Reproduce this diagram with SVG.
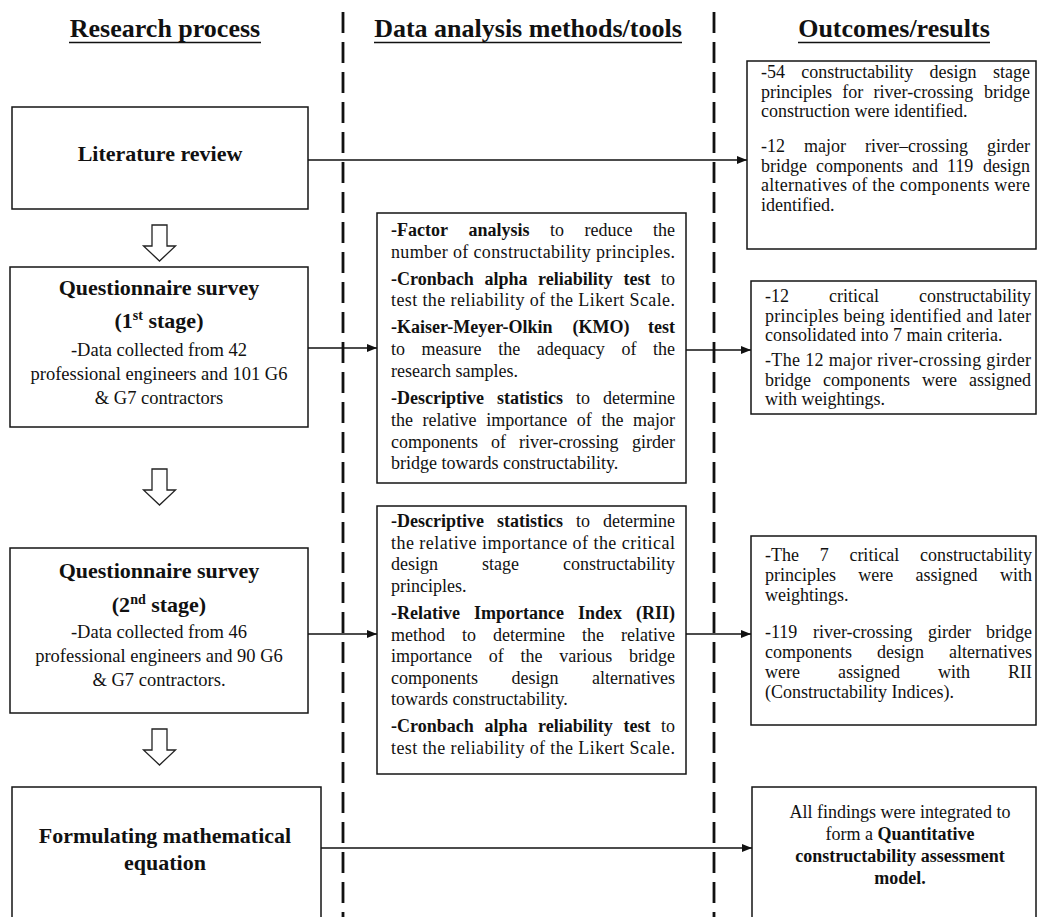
<svg xmlns="http://www.w3.org/2000/svg" width="1039" height="917" viewBox="0 0 1039 917">
  <style>
    text { font-family: "Liberation Serif", "Times New Roman", serif; fill: #111; }
    .hdr { font-size: 26px; font-weight: 700; }
    .ttl { font-size: 22px; font-weight: 700; }
    .txt { font-size: 18px; }
    .qt { font-size: 18.5px; }
    .b { font-weight: 700; }
    .sup { font-size: 14px; }
    .box { fill: #fff; stroke: #151515; stroke-width: 1.5; }
    .ul { stroke: #111; stroke-width: 1.6; }
    .sep { stroke: #111; stroke-width: 2.8; stroke-dasharray: 21 9; fill: none; }
    .flow { stroke: #111; stroke-width: 1.5; fill: none; marker-end: url(#ah); }
    .hollow { fill: #fff; stroke: #222; stroke-width: 1.3; }
  </style>
  <defs>
    <marker id="ah" markerWidth="10" markerHeight="8" refX="10" refY="4" orient="auto" markerUnits="userSpaceOnUse">
      <path d="M0,0 L10,4 L0,8 Z" fill="#111"/>
    </marker>
    <path id="down" class="hollow" d="M-7.5,0 H7.5 V21 H16 L0,36 L-16,21 H-7.5 Z"/>
  </defs>

  <rect width="1039" height="917" fill="#fff"/>

  <!-- column separators -->
  <g id="separators">
    <line class="sep" x1="343" y1="12" x2="343" y2="917"/>
    <line class="sep" x1="714" y1="12" x2="714" y2="917"/>
  </g>

  <!-- column headings -->
  <g id="headings">
    <text class="hdr" x="165" y="37" text-anchor="middle">Research process</text>
    <line class="ul" x1="69" y1="42.5" x2="261" y2="42.5"/>
    <text class="hdr" x="528" y="37" text-anchor="middle">Data analysis methods/tools</text>
    <line class="ul" x1="374" y1="42.5" x2="682" y2="42.5"/>
    <text class="hdr" x="894" y="37" text-anchor="middle">Outcomes/results</text>
    <line class="ul" x1="798" y1="42.5" x2="990" y2="42.5"/>
  </g>

  <!-- connectors -->
  <g id="connectors">
    <line class="flow" x1="308" y1="160" x2="747" y2="160"/>
    <line class="flow" x1="308" y1="348" x2="377" y2="348"/>
    <line class="flow" x1="686" y1="350" x2="751" y2="350"/>
    <line class="flow" x1="308" y1="634" x2="377" y2="634"/>
    <line class="flow" x1="686" y1="634" x2="751" y2="634"/>
    <line class="flow" x1="321" y1="848" x2="752" y2="848"/>
    <use href="#down" transform="translate(159.5,225)"/>
    <use href="#down" transform="translate(159.5,469)"/>
    <use href="#down" transform="translate(159.5,729)"/>
  </g>

  <!-- research process column -->
  <g id="literature-review">
    <rect class="box" x="12" y="107" width="296" height="102"/>
    <text class="ttl" x="160" y="161" text-anchor="middle">Literature review</text>
  </g>

  <g id="survey-stage-1">
    <rect class="box" x="10" y="267" width="298" height="160"/>
    <text class="ttl" x="159" y="295" text-anchor="middle">Questionnaire survey</text>
    <text class="ttl" x="159" y="328" text-anchor="middle">(1<tspan class="sup" dy="-8">st</tspan><tspan dy="8"> stage)</tspan></text>
    <text class="qt" x="159" y="356" text-anchor="middle">-Data collected from 42</text>
    <text class="qt" x="159" y="380" text-anchor="middle">professional engineers and 101 G6</text>
    <text class="qt" x="159" y="404" text-anchor="middle">&amp; G7 contractors</text>
  </g>

  <g id="survey-stage-2">
    <rect class="box" x="10" y="548" width="298" height="165"/>
    <text class="ttl" x="159" y="578" text-anchor="middle">Questionnaire survey</text>
    <text class="ttl" x="159" y="612" text-anchor="middle">(2<tspan class="sup" dy="-8">nd</tspan><tspan dy="8"> stage)</tspan></text>
    <text class="qt" x="159" y="638" text-anchor="middle">-Data collected from 46</text>
    <text class="qt" x="159" y="662" text-anchor="middle">professional engineers and 90 G6</text>
    <text class="qt" x="159" y="686" text-anchor="middle">&amp; G7 contractors.</text>
  </g>

  <g id="formulating-equation">
    <rect class="box" x="12" y="787" width="309" height="140"/>
    <text class="ttl" x="165" y="843" text-anchor="middle">Formulating mathematical</text>
    <text class="ttl" x="165" y="870" text-anchor="middle">equation</text>
  </g>

  <!-- methods column -->
  <g id="methods-stage-1">
    <rect class="box" x="377" y="213" width="309" height="270"/>
    <text class="txt" y="236"><tspan class="b" x="391">-Factor</tspan><tspan class="b" x="468.5">analysis</tspan><tspan x="550">to</tspan><tspan x="584.5">reduce</tspan><tspan x="653">the</tspan></text>
    <text class="txt" x="391" y="258" textLength="284" lengthAdjust="spacing">number of constructability principles.</text>
    <text class="txt" y="285"><tspan class="b" x="391">-Cronbach</tspan><tspan class="b" x="484.5">alpha</tspan><tspan class="b" x="538">reliability</tspan><tspan class="b" x="623.5">test</tspan><tspan x="661">to</tspan></text>
    <text class="txt" x="391" y="306" textLength="284" lengthAdjust="spacing">test the reliability of the Likert Scale.</text>
    <text class="txt" y="333"><tspan class="b" x="391">-Kaiser-Meyer-Olkin</tspan><tspan class="b" x="572.5">(KMO)</tspan><tspan class="b" x="648">test</tspan></text>
    <text class="txt" y="355"><tspan x="391">to</tspan><tspan x="421.6">measure</tspan><tspan x="498.2">the</tspan><tspan x="536.8">adequacy</tspan><tspan x="621.4">of</tspan><tspan x="653">the</tspan></text>
    <text class="txt" x="391" y="377">research samples.</text>
    <text class="txt" y="404"><tspan class="b" x="391">-Descriptive</tspan><tspan class="b" x="497">statistics</tspan><tspan x="576">to</tspan><tspan x="603">determine</tspan></text>
    <text class="txt" y="426"><tspan x="391">the</tspan><tspan x="422.6">relative</tspan><tspan x="486.2">importance</tspan><tspan x="576.8">of</tspan><tspan x="601.4">the</tspan><tspan x="633">major</tspan></text>
    <text class="txt" y="448"><tspan x="391">components</tspan><tspan x="491">of</tspan><tspan x="519">river-crossing</tspan><tspan x="632">girder</tspan></text>
    <text class="txt" x="391" y="469">bridge towards constructability.</text>
  </g>

  <g id="methods-stage-2">
    <rect class="box" x="377" y="506" width="309" height="268"/>
    <text class="txt" y="527"><tspan class="b" x="391">-Descriptive</tspan><tspan class="b" x="497">statistics</tspan><tspan x="576">to</tspan><tspan x="603">determine</tspan></text>
    <text class="txt" x="391" y="549" textLength="284" lengthAdjust="spacing">the relative importance of the critical</text>
    <text class="txt" y="570"><tspan x="391">design</tspan><tspan x="482">stage</tspan><tspan x="563">constructability</tspan></text>
    <text class="txt" x="391" y="592">principles.</text>
    <text class="txt" y="619"><tspan class="b" x="391">-Relative</tspan><tspan class="b" x="474">Importance</tspan><tspan class="b" x="578">Index</tspan><tspan class="b" x="636">(RII)</tspan></text>
    <text class="txt" y="641"><tspan x="391">method</tspan><tspan x="462">to</tspan><tspan x="493">determine</tspan><tspan x="582">the</tspan><tspan x="621">relative</tspan></text>
    <text class="txt" y="662"><tspan x="391">importance</tspan><tspan x="488.8">of</tspan><tspan x="520.5">the</tspan><tspan x="559.3">various</tspan><tspan x="629">bridge</tspan></text>
    <text class="txt" y="684"><tspan x="391">components</tspan><tspan x="511.5">design</tspan><tspan x="592">alternatives</tspan></text>
    <text class="txt" x="391" y="705">towards constructability.</text>
    <text class="txt" y="732"><tspan class="b" x="391">-Cronbach</tspan><tspan class="b" x="484.5">alpha</tspan><tspan class="b" x="538">reliability</tspan><tspan class="b" x="623.5">test</tspan><tspan x="661">to</tspan></text>
    <text class="txt" x="391" y="754" textLength="284" lengthAdjust="spacing">test the reliability of the Likert Scale.</text>
  </g>

  <!-- outcomes column -->
  <g id="outcome-literature">
    <rect class="box" x="747" y="61" width="289" height="188"/>
    <text class="txt" y="78"><tspan x="761">-54</tspan><tspan x="801.3">constructability</tspan><tspan x="929.6">design</tspan><tspan x="993">stage</tspan></text>
    <text class="txt" y="97.5"><tspan x="761">principles</tspan><tspan x="842.3">for</tspan><tspan x="873.6">river-crossing</tspan><tspan x="984">bridge</tspan></text>
    <text class="txt" x="761" y="117">construction were identified.</text>
    <text class="txt" y="152"><tspan x="761">-12</tspan><tspan x="804">major</tspan><tspan x="865">river–crossing</tspan><tspan x="987">girder</tspan></text>
    <text class="txt" y="171.5"><tspan x="761">bridge</tspan><tspan x="816">components</tspan><tspan x="912">and</tspan><tspan x="947">119</tspan><tspan x="983">design</tspan></text>
    <text class="txt" x="761" y="191" textLength="269" lengthAdjust="spacing">alternatives of the components were</text>
    <text class="txt" x="761" y="210.5">identified.</text>
  </g>

  <g id="outcome-stage-1">
    <rect class="box" x="751" y="281" width="285" height="133"/>
    <text class="txt" y="302"><tspan x="765">-12</tspan><tspan x="829">critical</tspan><tspan x="919">constructability</tspan></text>
    <text class="txt" x="765" y="321.5" textLength="266" lengthAdjust="spacing">principles being identified and later</text>
    <text class="txt" x="765" y="341">consolidated into 7 main criteria.</text>
    <text class="txt" x="765" y="366" textLength="266" lengthAdjust="spacing">-The 12 major river-crossing girder</text>
    <text class="txt" y="385.5"><tspan x="765">bridge</tspan><tspan x="823">components</tspan><tspan x="922">were</tspan><tspan x="969">assigned</tspan></text>
    <text class="txt" x="765" y="405">with weightings.</text>
  </g>

  <g id="outcome-stage-2">
    <rect class="box" x="751" y="536" width="285" height="189"/>
    <text class="txt" y="561"><tspan x="765">-The</tspan><tspan x="819.7">7</tspan><tspan x="849.4">critical</tspan><tspan x="920">constructability</tspan></text>
    <text class="txt" y="581"><tspan x="765">principles</tspan><tspan x="858.3">were</tspan><tspan x="915.6">assigned</tspan><tspan x="1000">with</tspan></text>
    <text class="txt" x="765" y="601">weightings.</text>
    <text class="txt" y="638"><tspan x="765">-119</tspan><tspan x="813">river-crossing</tspan><tspan x="928">girder</tspan><tspan x="986">bridge</tspan></text>
    <text class="txt" y="658"><tspan x="765">components</tspan><tspan x="877">design</tspan><tspan x="949">alternatives</tspan></text>
    <text class="txt" y="678"><tspan x="765">were</tspan><tspan x="838">assigned</tspan><tspan x="938">with</tspan><tspan x="1008">RII</tspan></text>
    <text class="txt" x="765" y="697.5">(Constructability Indices).</text>
  </g>

  <g id="outcome-model">
    <rect class="box" x="752" y="787" width="284" height="140"/>
    <text class="txt" x="900" y="818" text-anchor="middle">All findings were integrated to</text>
    <text class="txt" x="900" y="840" text-anchor="middle">form a <tspan class="b">Quantitative</tspan></text>
    <text class="txt b" x="900" y="862" text-anchor="middle">constructability assessment</text>
    <text class="txt b" x="900" y="884" text-anchor="middle">model.</text>
  </g>
</svg>
